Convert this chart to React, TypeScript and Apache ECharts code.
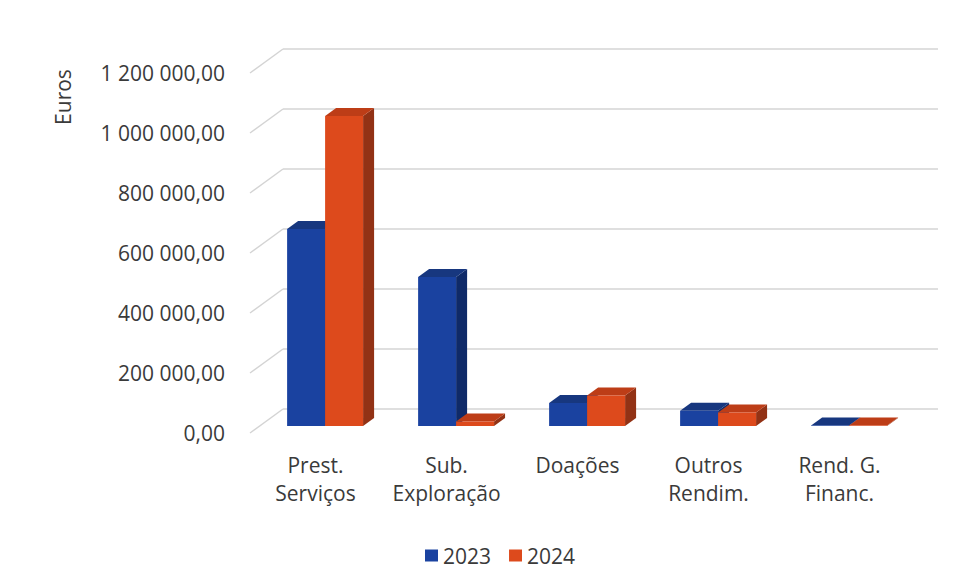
import React, { useEffect, useRef } from "react";
import * as echarts from "echarts";

const categories = ["Prest.\nServiços", "Sub.\nExploração", "Doações", "Outros\nRendim.", "Rend. G.\nFinanc."];
const seriesNames = ["2023", "2024"];
const values2023 = [657000, 497000, 77000, 51000, 2000];
const values2024 = [1033000, 15000, 102000, 45000, 1500];
const yTicks = [0, 200000, 400000, 600000, 800000, 1000000, 1200000];

const FONT = "'Open Sans', 'Noto Sans', sans-serif";
const TEXT = "#3a3a3a";
const GRID_LINE = "#d4d4d4";

const palette = [
  { front: "#1a42a0", top: "#17377f", side: "#0f2a68" },
  { front: "#dd4a1c", top: "#bd3d17", side: "#923215" },
];

const fmt = (v: number) => {
  const s = Math.round(v).toString().replace(/\B(?=(\d{3})+(?!\d))/g, " ");
  return s + ",00";
};

// depth direction of the 3D floor (full depth)
const WALL_DX = 33;
const WALL_DY = -24;

function barRenderer(idx: number) {
  const c = palette[idx];
  return (params: any, api: any) => {
    const i = api.value(0);
    const v = api.value(1);
    const base = api.coord([i, 0]);
    const top = api.coord([i, v]);
    const band = api.size([1, 0])[0];
    const w = band * 0.29;
    const fx = 9.6, fy = -7; // bar front face depth
    const dx = 11, dy = -8; // bar depth
    const x0 = base[0] - w + idx * w + fx;
    const yB = base[1] + fy;
    const yT = top[1] + fy;
    const x1 = x0 + w;
    return {
      type: "group",
      children: [
        {
          type: "polygon",
          shape: { points: [[x1, yT], [x1, yB], [x1 + dx, yB + dy], [x1 + dx, yT + dy]] },
          style: { fill: c.side },
        },
        {
          type: "polygon",
          shape: { points: [[x0, yT], [x1, yT], [x1 + dx, yT + dy], [x0 + dx, yT + dy]] },
          style: { fill: c.top },
        },
        {
          type: "rect",
          shape: { x: x0, y: yT, width: w, height: Math.max(yB - yT, 0) },
          style: { fill: c.front },
        },
      ],
    };
  };
}

export default function App() {
  const ref = useRef<HTMLDivElement>(null);
  useEffect(() => {
    if (!ref.current) return;
    const chart = echarts.init(ref.current, null, { renderer: "svg" });
    chart.setOption({
      animation: false,
      backgroundColor: "#ffffff",
      textStyle: { fontFamily: FONT },
      grid: [
        { left: 250, right: 65, top: 73, bottom: 151 },
        { left: 283, right: 32, top: 49, bottom: 175 },
      ],
      xAxis: [
        {
          type: "category",
          gridIndex: 0,
          data: categories,
          axisLine: { show: false },
          axisTick: { show: false },
          axisLabel: {
            margin: 18,
            fontSize: 21,
            lineHeight: 28,
            color: TEXT,
            fontFamily: FONT,
            interval: 0,
          },
        },
        { type: "value", gridIndex: 1, show: false, min: 0, max: 1 },
      ],
      yAxis: [
        {
          type: "value",
          gridIndex: 0,
          min: 0,
          max: 1200000,
          interval: 200000,
          axisLine: { show: false },
          axisTick: { show: false },
          splitLine: { show: false },
          axisLabel: {
            margin: 25,
            fontSize: 21,
            color: TEXT,
            fontFamily: FONT,
            formatter: (v: number) => fmt(v),
          },
        },
        {
          type: "value",
          gridIndex: 1,
          min: 0,
          max: 1200000,
          interval: 200000,
          axisLine: { show: false },
          axisTick: { show: false },
          axisLabel: { show: false },
          splitLine: { show: true, lineStyle: { color: GRID_LINE, width: 1.5 } },
        },
      ],
      legend: {
        data: seriesNames.map((n) => ({ name: n, icon: "rect" })),
        left: 420,
        top: 540,
        itemWidth: 13,
        itemHeight: 12,
        itemGap: 18,
        textStyle: { fontSize: 21, color: TEXT, fontFamily: FONT },
      },
      graphic: [
        {
          type: "text",
          x: 63,
          y: 97,
          rotation: Math.PI / 2,
          style: {
            text: "Euros",
            fontSize: 21,
            fontFamily: FONT,
            fill: TEXT,
            textAlign: "center",
            textVerticalAlign: "middle",
          },
        },
      ],
      series: [
        {
          type: "custom",
          name: "ticks",
          xAxisIndex: 0,
          yAxisIndex: 0,
          silent: true,
          data: yTicks.map((v) => [0, v]),
          encode: { x: 0, y: 1 },
          renderItem: (params: any, api: any) => {
            const y = api.coord([0, api.value(1)])[1];
            const x = params.coordSys.x;
            return {
              type: "line",
              shape: { x1: x, y1: y, x2: x + WALL_DX, y2: y + WALL_DY },
              style: { stroke: GRID_LINE, lineWidth: 1.5 },
            };
          },
        },
        {
          type: "custom",
          name: seriesNames[0],
          xAxisIndex: 0,
          yAxisIndex: 0,
          itemStyle: { color: palette[0].front },
          data: values2023.map((v, i) => [i, v]),
          encode: { x: 0, y: 1 },
          renderItem: barRenderer(0),
        },
        {
          type: "custom",
          name: seriesNames[1],
          xAxisIndex: 0,
          yAxisIndex: 0,
          itemStyle: { color: palette[1].front },
          data: values2024.map((v, i) => [i, v]),
          encode: { x: 0, y: 1 },
          renderItem: barRenderer(1),
        },
      ],
    });
    return () => chart.dispose();
  }, []);
  return (
    <div
      ref={ref}
      style={{ position: "fixed", left: 0, top: 0, width: 970, height: 584 }}
    />
  );
}
